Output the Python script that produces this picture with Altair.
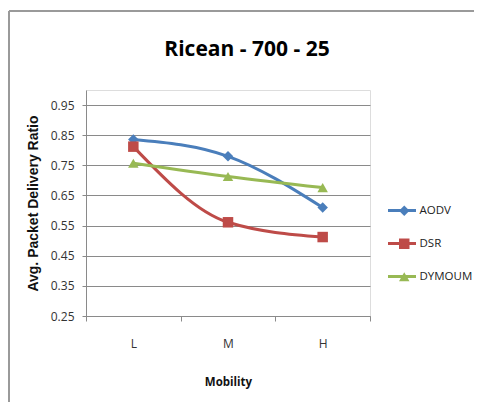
import altair as alt
import pandas as pd

mobility = ["L", "M", "H"]
series_names = ["AODV", "DSR", "DYMOUM"]
aodv = [0.836, 0.780, 0.610]
dsr = [0.812, 0.561, 0.512]
dymoum = [0.757, 0.713, 0.676]
colors = ["#4A7EBB", "#BE4B48", "#98B954"]
marker_shapes = ["diamond", "square", "triangle-up"]
y_ticks = [0.25, 0.35, 0.45, 0.55, 0.65, 0.75, 0.85, 0.95]

rows = []
for name, vals in zip(series_names, [aodv, dsr, dymoum]):
    for m, v in zip(mobility, vals):
        rows.append({"Mobility": m, "series": name, "marker": name + " ", "value": v})
df = pd.DataFrame(rows)
marker_names = [n + " " for n in series_names]

W, H = 284, 226
PAD_L, PAD_T = 78, 82

x_enc = alt.X(
    "Mobility:N",
    sort=mobility,
    scale=alt.Scale(paddingInner=0, paddingOuter=0),
    axis=alt.Axis(
        title="Mobility",
        labelAngle=0,
        tickBand="extent",
        tickSize=5,
        tickColor="#8a8a8a",
        domainColor="#8a8a8a",
        labelFont="Open Sans",
        labelFontSize=12,
        labelColor="#333333",
        labelPadding=17,
        titleFont="Open Sans",
        titleFontSize=11.5,
        titleFontWeight="bold",
        titleColor="#111111",
        titleBaseline="middle",
        titleY=66,
        grid=False,
    ),
)
y_enc = alt.Y(
    "value:Q",
    scale=alt.Scale(domain=[0.25, 1.0], nice=False, zero=False),
    axis=alt.Axis(
        title="Avg. Packet Delivery Ratio",
        values=y_ticks,
        format=".2f",
        tickSize=4,
        tickColor="#8a8a8a",
        domainColor="#8a8a8a",
        gridColor="#8a8a8a",
        gridWidth=1,
        labelFont="Open Sans",
        labelFontSize=12,
        labelColor="#333333",
        labelPadding=8,
        titleFont="Liberation Sans",
        titleFontSize=14,
        titleFontWeight="bold",
        titleColor="#111111",
        titleAngle=-90,
        titleBaseline="middle",
        titleX=-53,
        titleY=H / 2,
    ),
)

color_enc = alt.Color(
    "series:N",
    scale=alt.Scale(domain=series_names, range=colors),
    legend=alt.Legend(
        title=None,
        orient="none",
        legendX=300.5,
        legendY=105,
        padding=0,
        symbolType="stroke",
        symbolSize=784,
        symbolStrokeWidth=3,
        rowPadding=11,
        labelOffset=2,
        labelFont="Open Sans",
        labelFontSize=11.5,
        labelColor="#222222",
    ),
)

marker_legend = alt.Legend(
    title=None,
    orient="none",
    legendX=312.5,
    legendY=115,
    padding=0,
    symbolSize=110,
    symbolStrokeWidth=0,
    symbolOpacity=1,
    rowPadding=20,
    labelFont="Open Sans",
    labelFontSize=11.5,
    labelOpacity=0,
    labelExpr="''",
)

lines = alt.Chart(df).mark_line(interpolate="monotone", strokeWidth=3).encode(
    x=x_enc, y=y_enc, color=color_enc
)
points = alt.Chart(df).mark_point(filled=True, opacity=1, size=110).encode(
    x=x_enc,
    y=y_enc,
    fill=alt.Fill("marker:N", scale=alt.Scale(domain=marker_names, range=colors), legend=marker_legend),
    shape=alt.Shape("marker:N", scale=alt.Scale(domain=marker_names, range=marker_shapes), legend=marker_legend),
)

frame_df = pd.DataFrame({"k": [0]})
frame_top = alt.Chart(frame_df).mark_rule(color="#9a9a9a", strokeWidth=2).encode(
    x=alt.value(-77), x2=alt.value(W + 200), y=alt.value(-79)
)
frame_left = alt.Chart(frame_df).mark_rule(color="#9a9a9a", strokeWidth=2).encode(
    x=alt.value(-77), y=alt.value(-79), y2=alt.value(H + 200)
)

chart = (
    alt.layer(frame_top, frame_left, lines, points)
    .resolve_scale(color="independent")
    .properties(
        width=W,
        height=H,
        autosize=alt.AutoSizeParams(type="none"),
        padding={"left": PAD_L, "top": PAD_T, "right": 104, "bottom": 86},
        title=alt.TitleParams(
            "Ricean - 700 - 25",
            font="Open Sans",
            fontSize=21,
            fontWeight="bold",
            color="#000000",
            anchor="middle",
            dx=19,
            offset=-50,
        ),
    )
    .configure_view(stroke=None)
    .configure(background="white")
)

chart.save("out.html", embed_options={"renderer": "svg", "actions": False})
